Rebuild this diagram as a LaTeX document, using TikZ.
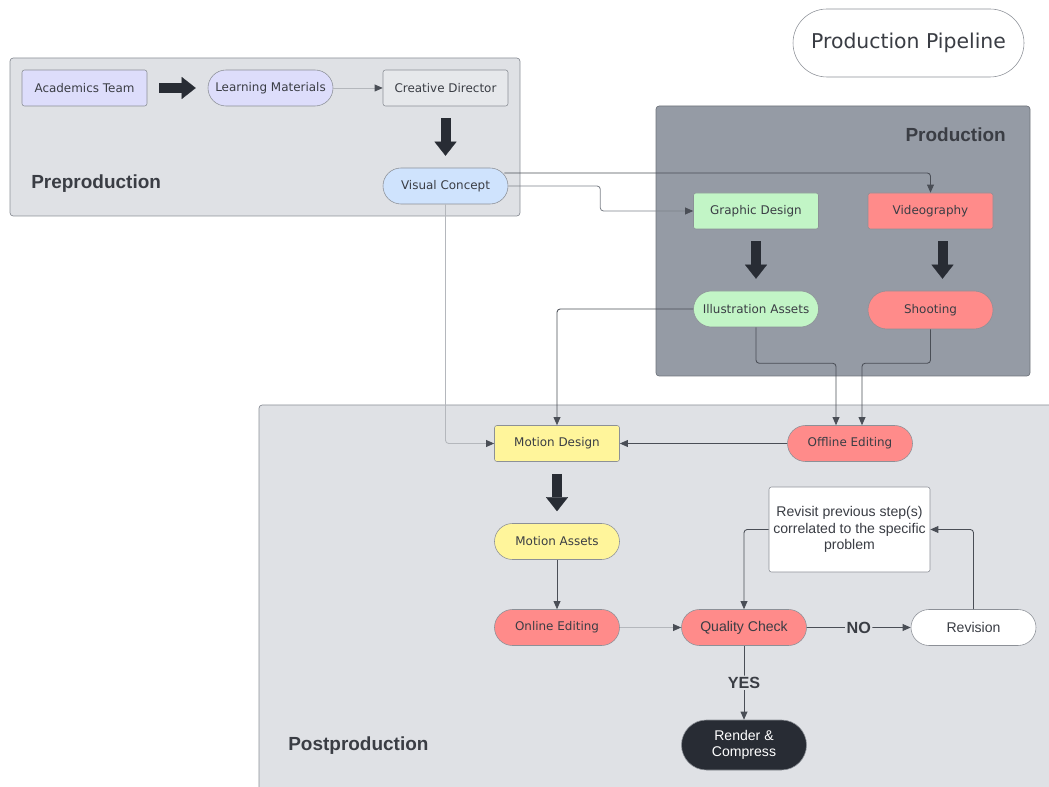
\documentclass[tikz,border=0pt]{standalone}
\usepackage{fontspec}
\setmainfont{Liberation Sans}
\newfontfamily\boxfont{DejaVu Sans}
\usetikzlibrary{arrows.meta,positioning}

\definecolor{ink}{HTML}{3A3D44}
\definecolor{edgegray}{HTML}{8C9097}
\definecolor{prodedge}{HTML}{70757D}
\definecolor{secbg}{HTML}{DFE1E5}
\definecolor{prodbg}{HTML}{959BA5}
\definecolor{crdfill}{HTML}{E6E8EB}
\definecolor{lavender}{HTML}{DDDDFB}
\definecolor{skyblue}{HTML}{CFE3FD}
\definecolor{mint}{HTML}{C2F5C6}
\definecolor{salmon}{HTML}{FF8B8A}
\definecolor{lemon}{HTML}{FFF59B}
\definecolor{charcoal}{HTML}{282C34}
\definecolor{wire}{HTML}{4A4E56}
\definecolor{midwire}{HTML}{7E828A}
\definecolor{lightwire}{HTML}{B4B7BC}

\begin{document}
\begin{tikzpicture}[x=0.25mm,y=-0.25mm,
  box/.style={draw=edgegray, fill=#1, rounded corners=0.6mm, minimum width=31.25mm, minimum height=9mm, inner sep=1pt, text=ink, font=\boxfont\fontsize{8.5}{10}\selectfont},
  box/.default=white,
  pill/.style={box=#1, rounded corners=4.5mm},
  pill/.default=white,
  plain/.style={font=\fontsize{10}{11.7}\selectfont},
  section/.style={draw=edgegray, rounded corners=0.8mm, line width=0.5pt},
  heading/.style={font=\bfseries\fontsize{13.5}{16}\selectfont, text=ink, inner sep=0pt},
  bigarrow/.style={draw=charcoal, line width=2.5mm, shorten <=3mm, shorten >=3mm, -{Triangle[width=5.5mm,length=3.5mm,line width=0.1pt]}},
  link/.style={draw=wire, line width=0.6pt, rounded corners=0.8mm, -{Triangle[length=2mm,width=1.7mm]}},
  faint/.style={link, draw=lightwire, -{Triangle[length=2mm,width=1.7mm,color=wire]}},
  answer/.style={font=\bfseries\fontsize{11.5}{13}\selectfont, text=ink, fill=secbg, inner sep=1pt}
]
\useasboundingbox (0,0) rectangle (1049,787);
\clip (0,0) rectangle (1049,787);

% sections
\draw[section, fill=secbg] (10,58) rectangle (520,216);
\draw[section, fill=prodbg, draw=prodedge] (656,106) rectangle (1030,376);
\draw[section, fill=secbg] (259,405) rectangle (1060,800);
\node[heading, anchor=west] (prelabel) at (31,184) {Preproduction};
\node[heading, anchor=east] (prodlabel) at (1006,135) {Production};
\node[heading, anchor=west] (postlabel) at (288,746) {Postproduction};

\node[pill, minimum width=57.75mm, minimum height=17mm, rounded corners=8.5mm, font=\boxfont\fontsize{14.5}{17}\selectfont] (title) at (908.5,43) {Production Pipeline};

% preproduction
\node[box=lavender] (acad) at (84.5,88) {Academics Team};
\node[pill=lavender] (learn) at (270.5,88) {Learning Materials};
\node[box=crdfill] (creative) at (445.5,88) {Creative Director};
\node[pill=skyblue] (visual) at (445.5,186) {Visual Concept};

% production
\node[box=mint] (graphic) at (756,211) {Graphic Design};
\node[box=salmon] (video) at (930.5,211) {Videography};
\node[pill=mint] (illus) at (756,309) {Illustration Assets};
\node[pill=salmon, minimum height=9.5mm, rounded corners=4.75mm] (shoot) at (930.5,310) {Shooting};

% postproduction
\node[box=lemon] (motion) at (557,443.5) {Motion Design};
\node[pill=salmon] (offline) at (850,443.5) {Offline Editing};
\node[pill=lemon] (assets) at (557,541.5) {Motion Assets};
\node[pill=salmon] (online) at (557,627.5) {Online Editing};
\node[pill=salmon, plain] (check) at (744,627.5) {Quality Check};
\node[pill, plain] (revision) at (973.5,627.5) {Revision};
\node[box, plain, minimum width=40.25mm, minimum height=21.25mm, align=center] (revisit) at (849.5,529.5) {Revisit previous step(s)\\correlated to the specific\\problem};
\node[pill=charcoal, plain, text=white, minimum height=12.5mm, rounded corners=6.25mm, align=center] (render) at (744,745) {Render \&\\Compress};

% thick arrows
\draw[bigarrow] (acad) -- (learn);
\draw[bigarrow] (creative) -- (visual);
\draw[bigarrow] (graphic) -- (illus);
\draw[bigarrow] ([xshift=3mm]video.south) -- ([xshift=3mm]shoot.north);
\draw[bigarrow] (motion) -- (assets);

% connectors
\draw[faint] (learn) -- (creative);
\draw[link] ([shift={(-4,-13)}]visual.east) -| (video.north);
\draw[faint, draw=midwire] (visual.east) -- ++(92,0) |- (graphic.west);
\draw[faint] (visual.south) |- (motion.west);
\draw[link] (illus.west) -| (motion.north);
\draw[link] (illus.south) -- ++(0,36) -| ([shift={(-14,0)}]offline.north);
\draw[link] (shoot.south) -- ++(0,34) -| ([shift={(12,0)}]offline.north);
\draw[link] (offline) -- (motion);
\draw[link] (assets) -- (online);
\draw[faint] (online) -- (check);
\draw[link] (check) -- node[answer] (no) {NO} (revision);
\draw[link] (revision.north) |- (revisit.east);
\draw[link] (revisit.west) -| (check.north);
\draw[link] (check) -- node[answer] (yes) {YES} (render);
\end{tikzpicture}
\end{document}
